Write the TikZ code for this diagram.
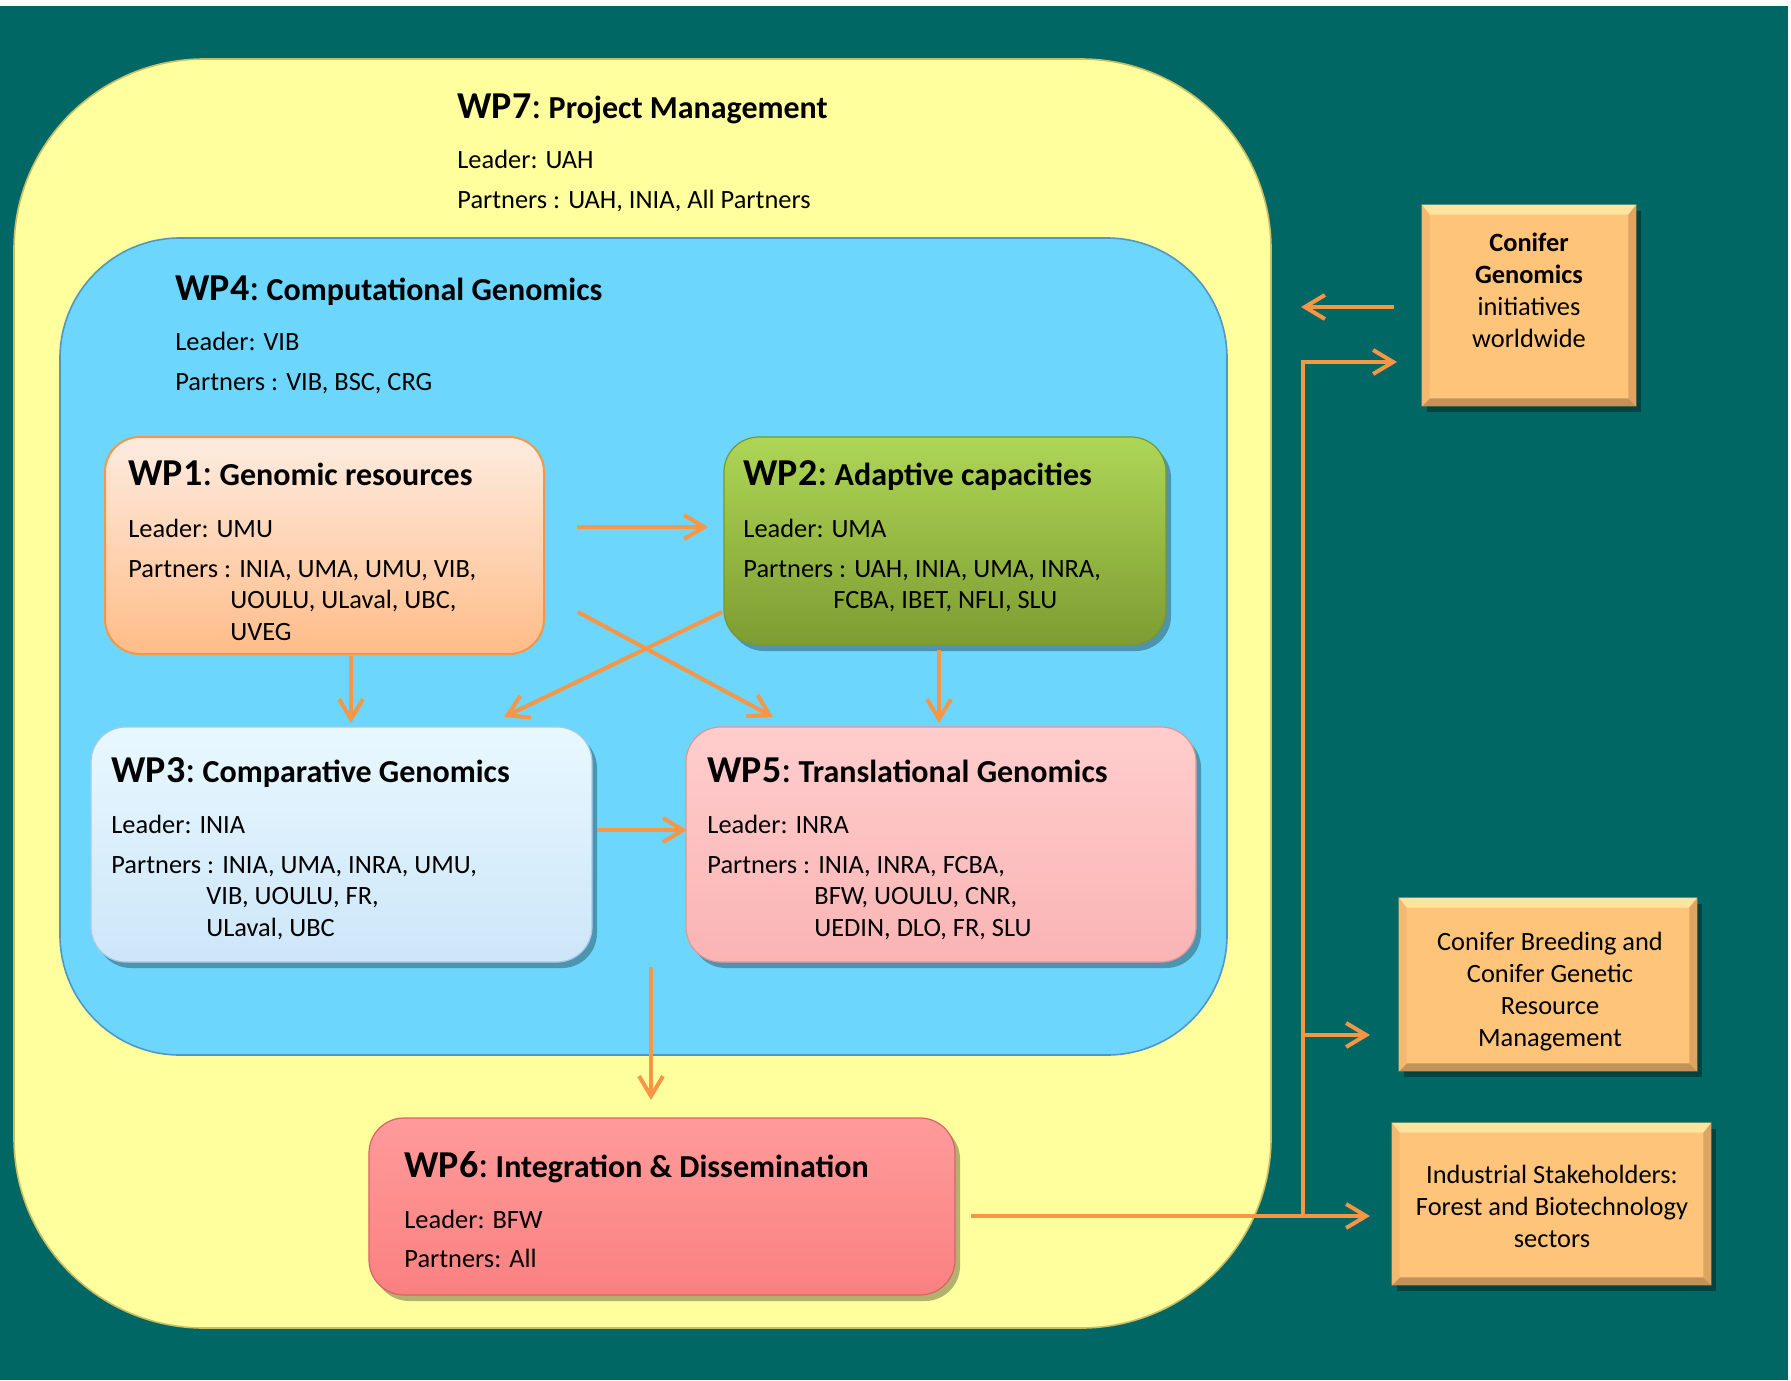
\documentclass[tikz,border=0pt]{standalone}
\usepackage{fontspec}
\setmainfont{Carlito}
\usetikzlibrary{fit,shadows,arrows.meta}

\definecolor{bgteal}{RGB}{0,103,101}
\definecolor{wpyellow}{RGB}{255,255,158}
\definecolor{yellowedge}{RGB}{200,190,100}
\definecolor{wpblue}{RGB}{109,214,253}
\definecolor{blueedge}{RGB}{80,150,200}
\definecolor{wpAtop}{RGB}{253,236,224}
\definecolor{wpAbot}{RGB}{255,188,136}
\definecolor{wpAedge}{RGB}{247,150,70}
\definecolor{wpBtop}{RGB}{174,214,86}
\definecolor{wpBmid}{RGB}{155,190,72}
\definecolor{wpBbot}{RGB}{126,156,50}
\definecolor{wpBedge}{RGB}{120,150,50}
\definecolor{wpCtop}{RGB}{232,248,255}
\definecolor{wpCmid}{RGB}{214,240,253}
\definecolor{wpCbot}{RGB}{205,230,248}
\definecolor{wpCedge}{RGB}{170,200,225}
\definecolor{wpEtop}{RGB}{255,205,205}
\definecolor{wpEmid}{RGB}{255,187,187}
\definecolor{wpEbot}{RGB}{250,180,180}
\definecolor{wpEedge}{RGB}{225,150,150}
\definecolor{wpFtop}{RGB}{255,155,155}
\definecolor{wpFmid}{RGB}{255,134,134}
\definecolor{wpFbot}{RGB}{250,128,128}
\definecolor{wpFedge}{RGB}{215,100,100}
\definecolor{sidebox}{RGB}{254,196,122}
\definecolor{bvtop}{RGB}{255,228,160}
\definecolor{bvbot}{RGB}{196,146,88}
\definecolor{bvleft}{RGB}{244,184,112}
\definecolor{bvright}{RGB}{222,165,98}
\definecolor{arrc}{RGB}{247,150,70}

\newcommand{\wptitle}[2]{{\fontsize{19}{22}\selectfont\bfseries #1}{\fontsize{19}{22}\selectfont:}{\fontsize{16}{19}\selectfont\bfseries\ #2}}

\newcommand{\bevelbox}[1]{%
  \fill[bvtop] (#1.north west) -- (#1.north east) -- ([xshift=-4pt,yshift=-5pt]#1.north east) -- ([xshift=4pt,yshift=-5pt]#1.north west) -- cycle;
  \fill[bvbot] (#1.south west) -- (#1.south east) -- ([xshift=-4pt,yshift=4pt]#1.south east) -- ([xshift=4pt,yshift=4pt]#1.south west) -- cycle;
  \fill[bvleft] (#1.north west) -- ([xshift=4pt,yshift=-5pt]#1.north west) -- ([xshift=4pt,yshift=4pt]#1.south west) -- (#1.south west) -- cycle;
  \fill[bvright] (#1.north east) -- ([xshift=-4pt,yshift=-5pt]#1.north east) -- ([xshift=-4pt,yshift=4pt]#1.south east) -- (#1.south east) -- cycle;
}

\tikzset{
  region/.style={inner sep=0pt, line width=0.8pt},
  flatbox/.style={inner sep=0pt, rounded corners=17.5pt, shading=axis},
  wpbox/.style={flatbox,
    drop shadow={shadow xshift=2.5pt, shadow yshift=-3pt, opacity=0.3, fill=black}},
  sbox/.style={inner sep=0pt, fill=sidebox,
    drop shadow={shadow xshift=2.5pt, shadow yshift=-3pt, opacity=0.35, fill=black}},
  body/.style={anchor=base west, inner sep=0pt, font=\fontsize{13.2}{15.75}\selectfont},
  ttl/.style={anchor=base west, inner sep=0pt},
  ctr/.style={anchor=base, inner sep=0pt, font=\fontsize{13.2}{16}\selectfont},
  arr/.style={draw=arrc, line width=2pt, -{Straight Barb[length=10pt,width=12pt]}},
}

\begin{document}
\begin{tikzpicture}[x=0.5pt,y=-0.5pt]
\useasboundingbox (0,0) rectangle (1791,1380);
\fill[white] (0,0) rectangle (1791,1380);
\fill[bgteal] (0,6) rectangle (1788,1380);

% WP7 region
\node[region, fit={(14,59)(1271,1328)}, fill=wpyellow, draw=yellowedge, rounded corners=95pt] (wp7) {};
\node[ttl] (wp7t) at (457,119) {\wptitle{WP7}{Project Management}};
\node[body] (wp7l) at (457,169) {Leader: UAH};
\node[body] (wp7p) at (457,209) {Partners : UAH, INIA, All Partners};

% WP4 region
\node[region, fit={(60,238)(1227,1055)}, fill=wpblue, draw=blueedge, rounded corners=60pt] (wp4) {};
\node[ttl] (wp4t) at (175,300) {\wptitle{WP4}{Computational Genomics}};
\node[body] (wp4l) at (175,350) {Leader: VIB};
\node[body] (wp4p) at (175,390) {Partners : VIB, BSC, CRG};

% WP1
\node[flatbox, fit={(105,437)(544,654)}, top color=wpAtop, bottom color=wpAbot, draw=wpAedge, line width=1pt] (wp1) {};
\node[ttl] (wp1t) at (128,485) {\wptitle{WP1}{Genomic resources}};
\node[body] (wp1l) at (128,537) {Leader: UMU};
\node[body] (wp1p) at (128,577) {\begin{tabular}[t]{@{}l@{}}Partners : INIA, UMA, UMU, VIB,\\\hspace*{51pt}UOULU, ULaval, UBC,\\\hspace*{51pt}UVEG\end{tabular}};

% WP2
\node[wpbox, fit={(724,437)(1166,645)}, top color=wpBtop, middle color=wpBmid, bottom color=wpBbot, draw=wpBedge, line width=0.6pt] (wp2) {};
\node[ttl] (wp2t) at (743,485) {\wptitle{WP2}{Adaptive capacities}};
\node[body] (wp2l) at (743,537) {Leader: UMA};
\node[body] (wp2p) at (743,577) {\begin{tabular}[t]{@{}l@{}}Partners : UAH, INIA, UMA, INRA,\\\hspace*{45pt}FCBA, IBET, NFLI, SLU\end{tabular}};

% WP3
\node[wpbox, fit={(91,727)(592,962)}, top color=wpCtop, middle color=wpCmid, bottom color=wpCbot, draw=wpCedge, line width=0.6pt] (wp3) {};
\node[ttl] (wp3t) at (111,782) {\wptitle{WP3}{Comparative Genomics}};
\node[body] (wp3l) at (111,833) {Leader: INIA};
\node[body] (wp3p) at (111,873) {\begin{tabular}[t]{@{}l@{}}Partners : INIA, UMA, INRA, UMU,\\\hspace*{47.5pt}VIB, UOULU, FR,\\\hspace*{47.5pt}ULaval, UBC\end{tabular}};

% WP5
\node[wpbox, fit={(686,727)(1196,962)}, top color=wpEtop, middle color=wpEmid, bottom color=wpEbot, draw=wpEedge, line width=0.6pt] (wp5) {};
\node[ttl] (wp5t) at (707,782) {\wptitle{WP5}{Translational Genomics}};
\node[body] (wp5l) at (707,833) {Leader: INRA};
\node[body] (wp5p) at (707,873) {\begin{tabular}[t]{@{}l@{}}Partners : INIA, INRA, FCBA,\\\hspace*{53.5pt}BFW, UOULU, CNR,\\\hspace*{53.5pt}UEDIN, DLO, FR, SLU\end{tabular}};

% WP6
\node[wpbox, fit={(369,1118)(955,1295)}, top color=wpFtop, middle color=wpFmid, bottom color=wpFbot, draw=wpFedge, line width=0.6pt] (wp6) {};
\node[ttl] (wp6t) at (404,1177) {\wptitle{WP6}{Integration \& Dissemination}};
\node[body] (wp6l) at (404,1228) {Leader: BFW};
\node[body] (wp6p) at (404,1267) {Partners: All};

% side boxes
\node[sbox, fit={(1422,205)(1636,406)}] (cg) {};
\bevelbox{cg}
\node[ctr] (cgt) at (1529,251) {\begin{tabular}[t]{@{}c@{}}\textbf{Conifer}\\\textbf{Genomics}\\initiatives\\worldwide\end{tabular}};

\node[sbox, fit={(1399,898)(1697,1071)}] (cb) {};
\bevelbox{cb}
\node[ctr] (cbt) at (1550,950) {\begin{tabular}[t]{@{}c@{}}Conifer Breeding and\\Conifer Genetic\\Resource\\Management\end{tabular}};

\node[sbox, fit={(1392,1123)(1711,1285)}] (is) {};
\bevelbox{is}
\node[ctr] (ist) at (1552,1183) {\begin{tabular}[t]{@{}c@{}}Industrial Stakeholders:\\Forest and Biotechnology\\sectors\end{tabular}};

% connector end points
\coordinate (a1s) at (577,527);  \coordinate (a1e) at (708,527);
\coordinate (a2s) at (351,656);  \coordinate (a2e) at (351,723);
\coordinate (a3s) at (939,650);  \coordinate (a3e) at (939,723);
\coordinate (a4s) at (578,612);  \coordinate (a4e) at (773,717);
\coordinate (a5s) at (722,612);  \coordinate (a5e) at (504,717);
\coordinate (a6s) at (597,830);  \coordinate (a6e) at (687,830);
\coordinate (a7s) at (651,967);  \coordinate (a7e) at (651,1100);
\coordinate (a8s) at (971,1216); \coordinate (a8e) at (1370,1216);
\coordinate (bus) at (1303,1216); \coordinate (bustop) at (1303,362);
\coordinate (a9e) at (1397,362);
\coordinate (a10s) at (1303,1035); \coordinate (a10e) at (1370,1035);
\coordinate (a11s) at (1394,307); \coordinate (a11e) at (1301,307);

\draw[arr] (a1s) -- (a1e);
\draw[arr] (a2s) -- (a2e);
\draw[arr] (a3s) -- (a3e);
\draw[arr] (a4s) -- (a4e);
\draw[arr] (a5s) -- (a5e);
\draw[arr] (a6s) -- (a6e);
\draw[arr] (a7s) -- (a7e);
\draw[arr] (a8s) -- (a8e);
\draw[arr] (bus) -- (bustop) -- (a9e);
\draw[arr] (a10s) -- (a10e);
\draw[arr] (a11s) -- (a11e);
\end{tikzpicture}
\end{document}
